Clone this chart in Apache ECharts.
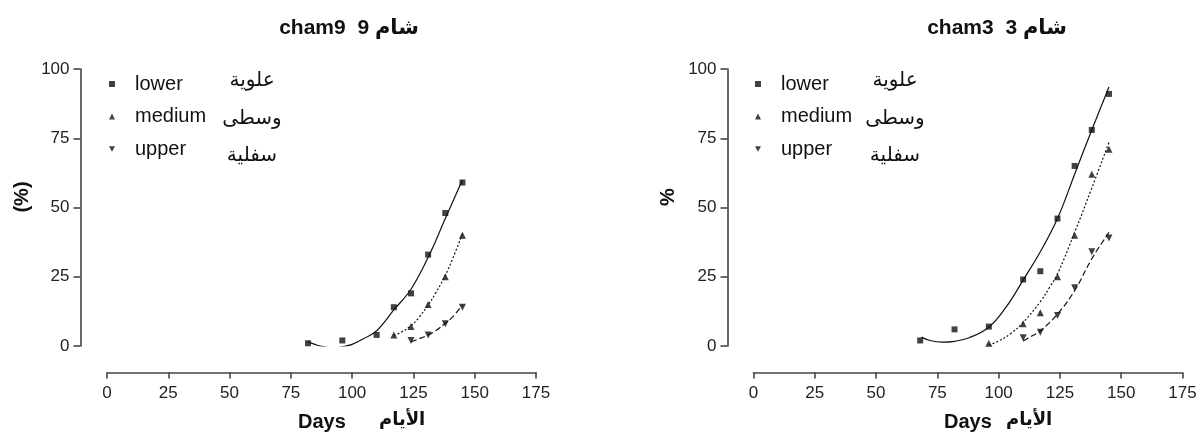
<!DOCTYPE html>
<html>
<head>
<meta charset="utf-8">
<script src="https://cdn.jsdelivr.net/npm/echarts@6/dist/echarts.min.js"></script>
<style>html,body{margin:0;padding:0;background:#fff}#c{width:1200px;height:433px}</style>
</head>
<body>
<div id="c"></div>
<script>
// ---------- data: cham9 (left) ----------
const lowerDays9 = [82, 96, 110, 117, 124, 131, 138, 145];
const lower9 = [1, 2, 4, 14, 19, 33, 48, 59];
const mediumDays9 = [117, 124, 131, 138, 145];
const medium9 = [4, 7, 15, 25, 40];
const upperDays9 = [124, 131, 138, 145];
const upper9 = [2, 4, 8, 14];
// fitted curves
const lowerFitDays9 = [82, 84.5, 87, 92, 97.5, 100, 105, 110, 117, 124, 131, 138, 145];
const lowerFit9 = [1.5, 0.7, 0, -0.7, 0, 0.6, 2.8, 5.5, 13, 20.5, 32, 46, 60];
const mediumFitDays9 = [117, 120, 124, 127, 131, 134, 138, 141, 145];
const mediumFit9 = [3.8, 5, 7.3, 10, 14.8, 19, 25.5, 31.5, 40.5];
const upperFitDays9 = [124, 127, 131, 134, 138, 141, 145];
const upperFit9 = [1.5, 2.5, 4, 5.5, 8.2, 10.5, 14.8];

// ---------- data: cham3 (right) ----------
const lowerDays3 = [68, 82, 96, 110, 117, 124, 131, 138, 145];
const lower3 = [2, 6, 7, 24, 27, 46, 65, 78, 91];
const mediumDays3 = [96, 110, 117, 124, 131, 138, 145];
const medium3 = [1, 8, 12, 25, 40, 62, 71];
const upperDays3 = [110, 117, 124, 131, 138, 145];
const upper3 = [3, 5, 11, 21, 34, 39];
const lowerFitDays3 = [68.5, 72, 77, 82, 88, 96, 103, 110, 117, 124, 131, 138, 145];
const lowerFit3 = [3.2, 2.0, 1.4, 1.7, 3.0, 6.8, 14, 23.8, 34, 46, 62, 78, 93.5];
const mediumFitDays3 = [96, 100, 105, 110, 117, 121, 124, 131, 138, 145];
const mediumFit3 = [0.3, 1.8, 4.5, 8.5, 16, 21.5, 26, 41, 57, 73.5];
const upperFitDays3 = [110, 113, 117, 124, 131, 138, 145];
const upperFit3 = [1.8, 3.3, 5.5, 11.5, 20, 31.5, 41];

// ---------- labels ----------
const seriesNames = ['lower', 'medium', 'upper'];
const arabicNames = ['علوية', 'وسطى', 'سفلية'];
const titles = ['cham9  9 شام', 'cham3  3 شام'];
const yTitles = ['(%)', '%'];
const xTitleEn = 'Days';
const xTitleAr = 'الأيام';
const xTicks = [0, 25, 50, 75, 100, 125, 150, 175];
const yTicks = [0, 25, 50, 75, 100];

const FONT = "'Liberation Sans', Arial, 'DejaVu Sans', sans-serif";
const INK = '#111';
const AXIS = '#444';
const downTri = 'path://M0,0L10,0L5,9Z';
const symbols = ['rect', 'triangle', downTri];
const sizes = [6, 7, 7];
const dashes = ['solid', [2, 2], [6, 3]];

const pairs = (xs, ys) => xs.map((x, i) => [x, ys[i]]);

const panels = [
  { left: 107, yAxisX: 80.5,
    pts: [pairs(lowerDays9, lower9), pairs(mediumDays9, medium9), pairs(upperDays9, upper9)],
    fits: [pairs(lowerFitDays9, lowerFit9), pairs(mediumFitDays9, mediumFit9), pairs(upperFitDays9, upperFit9)],
    titleX: 344, legendX: 109, arX: 252, yTitleX: 22, yTitleY: 197, daysX: 298, arTitleX: 379 },
  { left: 753.5, yAxisX: 727.5,
    pts: [pairs(lowerDays3, lower3), pairs(mediumDays3, medium3), pairs(upperDays3, upper3)],
    fits: [pairs(lowerFitDays3, lowerFit3), pairs(mediumFitDays3, mediumFit3), pairs(upperFitDays3, upperFit3)],
    titleX: 992, legendX: 755, arX: 895, yTitleX: 668, yTitleY: 197, daysX: 944, arTitleX: 1006 }
];

const GRID_W = 429, GRID_TOP = 69, GRID_H = 277;

const option = {
  animation: false,
  backgroundColor: '#fff',
  title: panels.map((p, i) => ({
    text: titles[i], left: p.titleX, top: 13, textAlign: 'center',
    textStyle: { fontFamily: FONT, fontSize: 21, fontWeight: 'bold', color: INK }
  })),
  legend: panels.map((p, i) => ({
    orient: 'vertical', left: p.legendX, top: 73, itemGap: 10.5, padding: 0,
    itemWidth: 6, itemHeight: 6, selectedMode: false,
    textStyle: { fontFamily: FONT, fontSize: 20, color: INK, padding: [0, 0, 0, 15], lineHeight: 22 },
    data: seriesNames.map((n, k) => ({ name: n, icon: symbols[k], itemStyle: { color: INK } }))
  })),
  grid: panels.map(p => ({ left: p.left, top: GRID_TOP, width: GRID_W, height: GRID_H })),
  xAxis: panels.map((p, i) => ({
    type: 'value', gridIndex: i, min: 0, max: 175, interval: 25, offset: 26.5,
    axisLine: { show: true, onZero: false, lineStyle: { color: AXIS, width: 1.6 } },
    axisTick: { show: true, length: 6, lineStyle: { color: AXIS, width: 1.6 } },
    axisLabel: { fontFamily: FONT, fontSize: 17, color: '#222', margin: 12,
      formatter: v => xTicks.includes(v) ? String(v) : '' },
    splitLine: { show: false }
  })),
  yAxis: panels.map((p, i) => ({
    type: 'value', gridIndex: i, min: 0, max: 100, interval: 25, offset: p.left - p.yAxisX,
    axisLine: { show: true, onZero: false, lineStyle: { color: AXIS, width: 1.6 } },
    axisTick: { show: true, length: 7, lineStyle: { color: AXIS, width: 1.6 } },
    axisLabel: { fontFamily: FONT, fontSize: 17, color: '#222', margin: 11,
      formatter: v => yTicks.includes(v) ? String(v) : '' },
    splitLine: { show: false }
  })),
  series: [],
  graphic: []
};

panels.forEach((p, i) => {
  seriesNames.forEach((n, k) => {
    option.series.push({
      name: n + 'Fit' + i, type: 'line', xAxisIndex: i, yAxisIndex: i,
      data: p.fits[k], smooth: 0.4, showSymbol: false, clip: true, silent: true,
      lineStyle: { color: INK, width: 1.2, type: dashes[k] }, z: 2
    });
    option.series.push({
      name: n, type: 'scatter', xAxisIndex: i, yAxisIndex: i,
      data: p.pts[k], symbol: symbols[k], symbolSize: sizes[k],
      itemStyle: { color: INK }, z: 3
    });
  });
  // Arabic legend words
  const arY = [80, 118, 155];
  arabicNames.forEach((t, k) => {
    option.graphic.push({
      type: 'text', x: p.arX, y: arY[k],
      style: { text: t, fontFamily: FONT, fontSize: 20, fill: INK, align: 'center', verticalAlign: 'middle' }
    });
  });
  // y axis title
  option.graphic.push({
    type: 'text', x: p.yTitleX, y: p.yTitleY, rotation: Math.PI / 2,
    style: { text: yTitles[i], fontFamily: FONT, fontSize: 20, fontWeight: 'bold', fill: INK, align: 'center', verticalAlign: 'middle' }
  });
  // x axis title
  option.graphic.push({
    type: 'text', x: p.daysX, y: 422,
    style: { text: xTitleEn, fontFamily: FONT, fontSize: 20, fontWeight: 'bold', fill: INK, align: 'left', verticalAlign: 'middle' }
  });
  option.graphic.push({
    type: 'text', x: p.arTitleX, y: 420,
    style: { text: xTitleAr, fontFamily: FONT, fontSize: 18, fontWeight: 'bold', fill: INK, align: 'left', verticalAlign: 'middle' }
  });
});

const chart = echarts.init(document.getElementById('c'), null, { renderer: 'canvas' });
chart.setOption(option);
</script>
</body>
</html>
